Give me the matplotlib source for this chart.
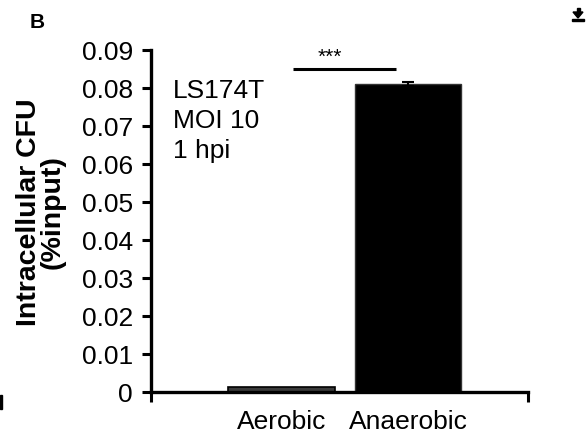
import matplotlib
matplotlib.use("Agg")
import matplotlib.pyplot as plt
from matplotlib.patches import Polygon, Rectangle
from matplotlib.ticker import FixedLocator

plt.rcParams['font.family'] = ['Liberation Sans', 'DejaVu Sans']

categories = ["Aerobic", "Anaerobic"]
values = [0.0013, 0.0810]
errors = [0.0, 0.0005]
yticks = [0, 0.01, 0.02, 0.03, 0.04, 0.05, 0.06, 0.07, 0.08, 0.09]
ytick_labels = ["0", "0.01", "0.02", "0.03", "0.04", "0.05", "0.06", "0.07", "0.08", "0.09"]
annotation_lines = ["LS174T", "MOI 10", "1 hpi"]
sig_label = "***"
sig_y = 0.0850

W, H = 587, 441
fig = plt.figure(figsize=(W / 100, H / 100), dpi=100)
ax = fig.add_axes([151 / W, (H - 392) / H, (528 - 151) / W, (392 - 50) / H])

x = list(range(len(categories)))
ax.bar(x[0], values[0], width=0.84, color='#3a3a3a', edgecolor='black', linewidth=1.2)
ax.bar(x[1], values[1], width=0.84, color='black', edgecolor='#333333', linewidth=1.0,
       yerr=errors[1], error_kw=dict(ecolor='black', capsize=4, elinewidth=1.5, capthick=1.5))

ax.set_xlim(-1.03, 1.945)
ax.set_ylim(0, 0.09)

for s in ['top', 'right']:
    ax.spines[s].set_visible(False)
for s in ['left', 'bottom']:
    ax.spines[s].set_linewidth(2.4)

ax.set_yticks(yticks)
ax.set_yticklabels(ytick_labels)
ax.tick_params(axis='y', length=6.5, width=2.2, labelsize=19, pad=6.5)

ax.set_xticks(x)
ax.set_xticklabels(categories)
ax.tick_params(axis='x', which='major', length=0, labelsize=19, pad=13)
ax.xaxis.set_minor_locator(FixedLocator([-1.03, 1.945]))
ax.tick_params(axis='x', which='minor', length=7, width=2.2, direction='out')

ax.set_ylabel("Intracellular CFU\n(%input)", fontsize=20.5, fontweight='bold',
              linespacing=0.92)
ax.yaxis.set_label_coords((66 - 151) / 377, 0.525)

ax.text(-0.86, 0.0825, "\n".join(annotation_lines), fontsize=19, va='top', ha='left',
        linespacing=1.33)

ax.plot([0.087, 0.90], [sig_y, sig_y], color='black', lw=2.2, solid_capstyle='butt', clip_on=False)
ax.text(0.38, sig_y + 0.0005, sig_label, fontsize=15, ha='center', va='bottom')

fig.text(30 / W, 1 - 28 / H, "B", fontsize=15, fontweight='bold', ha='left', va='baseline')

# small artifacts of the screenshot
fig.patches.append(Polygon([[573 / W, 1 - 12 / H], [583 / W, 1 - 12 / H], [578 / W, 1 - 18 / H]],
                           closed=True, transform=fig.transFigure, color='black'))
fig.patches.append(Rectangle((576.5 / W, 1 - 12.5 / H), 3 / W, 5 / H, transform=fig.transFigure, color='black'))
fig.patches.append(Rectangle((572 / W, 1 - 20.5 / H), 12 / W, 1.5 / H, transform=fig.transFigure, color='black'))
fig.patches.append(Rectangle((0, 1 - 409 / H), 2 / W, 14 / H, transform=fig.transFigure, color='black'))

fig.savefig("out.png", dpi=100)
